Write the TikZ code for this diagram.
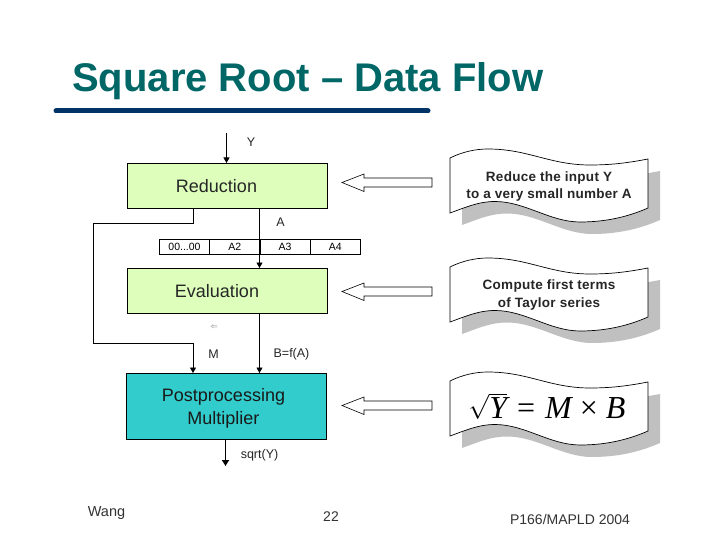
\documentclass[tikz,border=0pt]{standalone}
\usepackage{fontspec}
\setmainfont{Liberation Sans}
\newfontfamily\formulafont{Liberation Serif}
\usetikzlibrary{arrows.meta}
\definecolor{titlecol}{RGB}{0,102,102}
\definecolor{rulecol}{RGB}{0,51,102}
\definecolor{greenbox}{RGB}{221,255,187}
\definecolor{tealbox}{RGB}{51,204,204}
\definecolor{shadowcol}{RGB}{192,192,192}
\newcommand{\fsz}[1]{\fontsize{#1}{\dimexpr #1pt*12/10\relax}\selectfont}
\newcommand{\bannerpath}{(0,0) .. controls (12,-6) and (25,-9) .. (38,-9) .. controls (78,-9) and (100,7) .. (140,7) .. controls (165,7) and (182,4) .. (198,1) -- (198,50) .. controls (182,57) and (160,64) .. (130,64) .. controls (100,64) and (75,43.5) .. (45,43.5) .. controls (28,43.5) and (14,50) .. (0,55) -- cycle}
\tikzset{
  x=1pt,y=-1pt,
  block/.style={draw=black,line width=0.8pt,minimum height=0pt,inner sep=0pt,anchor=north west},
  wire/.style={draw=black,line width=0.8pt},
  wirearrow/.style={wire,-{Triangle[length=5.5pt,width=6pt]}},
  blockarrow/.style={draw=black,line width=0.6pt,fill=white},
  banner/.style={draw=black,line width=0.7pt,fill=white},
  bshadow/.style={fill=shadowcol,draw=none},
  lab/.style={inner sep=0pt,text=black!85,align=center},
  cell/.style={draw=black,line width=0.8pt,minimum width=50.25pt,minimum height=15pt,inner sep=0pt,anchor=north west,font=\fsz{10.5}},
}
\begin{document}
\begin{tikzpicture}
\useasboundingbox[fill=white] (0,0) rectangle (720,540);
\node[inner sep=0pt,anchor=west,text=titlecol,font=\fsz{40}\bfseries] (title) at (72,81) {Square Root – Data Flow};
\draw[rulecol,line width=5pt,line cap=round] (56,111) -- (428,111);
% boxes
\node[block,fill=greenbox,minimum width=200.5pt,minimum height=45pt] (red) at (126.5,163) {};
\node[block,fill=greenbox,minimum width=200.5pt,minimum height=45pt] (eval) at (126.5,268) {};
\node[block,fill=tealbox,minimum width=200.5pt,minimum height=66pt] (post) at (125.5,373) {};
\node[lab,font=\fsz{18}] (redt) at (216.5,186) {Reduction};
\node[lab,font=\fsz{18}] (evalt) at (217,291) {Evaluation};
\node[lab,font=\fsz{18},text=black!90] (postt) at (223.5,408.5) {Postprocessing\\[1pt]Multiplier};
% register
\node[cell] (c1) at (159,238.5) {00...00};
\node[cell] (c2) at (209.25,238.5) {A2};
\node[cell] (c3) at (259.5,238.5) {A3};
\node[cell] (c4) at (309.75,238.5) {A4};
% wires
\coordinate (ytop) at (226.5,133);
\coordinate (w0) at (193,208);
\coordinate (w1) at (193,223.5);
\coordinate (w2) at (93.5,223.5);
\coordinate (w3) at (93.5,343.5);
\coordinate (w4) at (193,343.5);
\coordinate (am) at (259.5,208);
\coordinate (bm) at (259.5,313);
\coordinate (sq) at (225.5,466);
\draw[wirearrow] (ytop) -- (ytop |- red.north);
\draw[wirearrow] (w0) -- (w1) -- (w2) -- (w3) -- (w4) -- (w4 |- post.north);
\draw[wirearrow] (am) -- (am |- eval.north);
\draw[wirearrow] (bm) -- (bm |- post.north);
\draw[wire,line width=1.5pt,-{Triangle[length=6pt,width=7pt]}] (sq |- post.south) -- (sq);
% labels
\node[lab,font=\fsz{12.5}] (ly) at (251,142) {Y};
\node[lab,font=\fsz{12.5}] (la) at (280.5,222.5) {A};
\node[lab,font=\fsz{12.5}] (lm) at (213.5,354.5) {M};
\node[lab,font=\fsz{12.5}] (lb) at (291.5,354.5) {B=f(A)};
\node[lab,font=\fsz{12.5}] (ls) at (259.5,455) {sqrt(Y)};
\node[lab,font=\fsz{7},text=black!55] (tiny) at (214,327.5) {$\Leftarrow$};
% block arrows
\foreach \dy in {0,109,223} {
  \begin{scope}[yshift=-\dy pt]
  \draw[blockarrow] (342,182.5) -- (364,174) -- (364,178) -- (432,178) -- (432,187) -- (364,187) -- (364,191.5) -- cycle;
  \end{scope}
}
% banners
\foreach \dy in {0,109,223} {
  \begin{scope}[shift={(450,158+\dy)}]
  \fill[bshadow,shift={(12,12)}] \bannerpath;
  \draw[banner] \bannerpath;
  \end{scope}
}
\node[lab,font=\fsz{13.5}\bfseries\addfontfeatures{LetterSpace=2}] (t1) at (549,186.5) {Reduce the input Y\\[1.5pt]to a very small number A};
\node[lab,font=\fsz{13.5}\bfseries\addfontfeatures{LetterSpace=2}] (t2) at (549,295) {Compute first terms\\[1.5pt]of Taylor series};
\node[lab,text=black,inner sep=0pt,font=\fsz{32}\formulafont\itshape] (t3) at (547,406) {$\sqrt{\rule{0pt}{22pt}\hbox{Y}}$\hspace{10pt}{\upshape =}\hspace{10pt}M\hspace{8pt}{\upshape ×}\hspace{8pt}B};
\node[inner sep=0pt,font=\fsz{14.5},text=black!80] (f1) at (106.5,513.5) {Wang};
\node[inner sep=0pt,font=\fsz{14},text=black!80] (f2) at (331,516.5) {22};
\node[inner sep=0pt,font=\fsz{14},text=black!80] (f3) at (570,519) {P166/MAPLD 2004};
\end{tikzpicture}
\end{document}
